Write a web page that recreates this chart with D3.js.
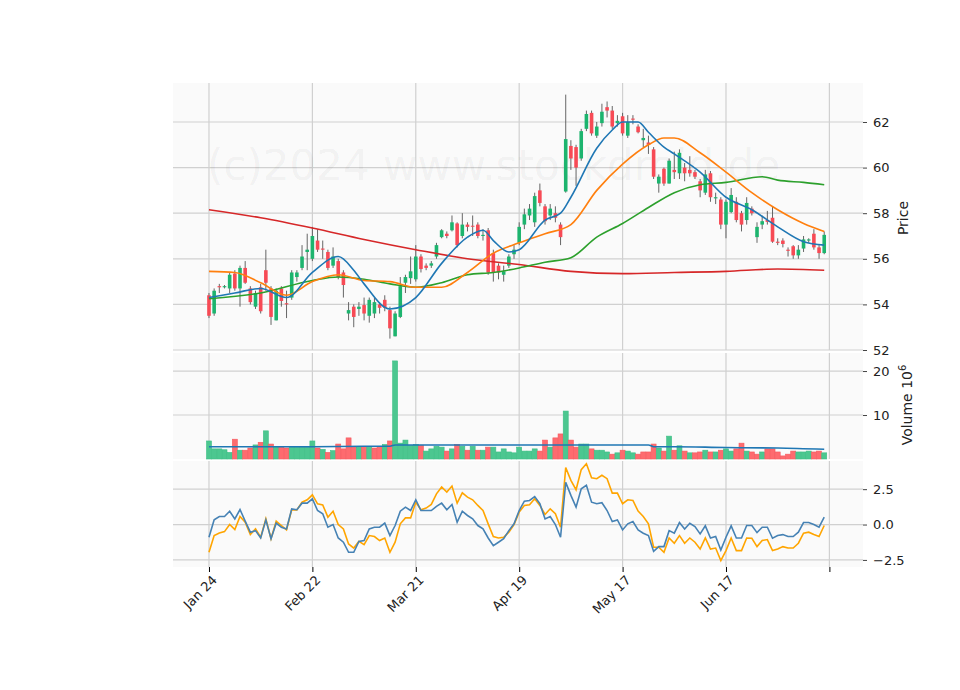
<!DOCTYPE html>
<html lang="en">
<head>
<meta charset="UTF-8">
<title>Chart</title>
<style>
body{margin:0;background:#fff;}
text{font-family:"DejaVu Sans",sans-serif;}
</style>
</head>
<body>
<script src="https://d3js.org/d3.v7.min.js"></script>
<script>
// candles, index 0..119
var opens = [54.4,53.6,54.8,54.75,54.7,55.35,54.7,55.6,54.7,53.9,54.75,55.5,54.7,53.3,54.7,54.05,54.3,55.2,55.6,56.3,
 56.0,56.8,56.45,56.3,55.7,55.9,55.4,53.6,53.9,53.8,53.97,53.5,53.6,54.0,54.2,53.75,52.6,53.45,54.95,55.15,
 55.1,56.1,55.7,55.7,56.1,56.95,57.1,57.25,57.55,57.0,57.5,57.45,57.5,57.0,57.25,56.25,55.7,55.3,55.7,56.2,
 56.7,57.5,57.9,57.6,59.0,58.3,57.9,58.0,57.5,58.95,60.95,60.9,60.4,61.7,62.4,61.4,61.95,62.65,62.5,61.95,
 62.25,61.4,62.15,61.8,61.2,61.1,60.8,59.3,59.95,59.3,59.9,59.75,60.0,59.9,59.8,59.4,58.9,59.75,58.65,58.6,
 57.5,58.05,58.5,58.0,57.7,58.2,56.95,57.5,57.7,57.8,56.75,56.8,56.4,56.55,56.15,56.45,56.8,57.1,56.5,56.25];
var highs = [54.5,54.7,54.9,54.85,55.4,55.5,55.7,55.9,54.8,54.6,54.9,56.4,54.8,54.7,54.8,54.6,55.5,55.5,56.6,57.1,
 57.4,57.3,56.8,56.4,56.5,56.0,55.5,54.1,54.0,54.1,54.3,54.3,54.3,54.1,54.4,53.9,53.7,55.2,55.3,56.1,
 56.6,56.2,55.8,55.9,56.7,57.3,57.2,57.9,57.6,58.0,57.6,57.9,57.6,57.3,57.35,56.4,55.8,55.7,56.2,56.6,
 57.6,58.2,58.4,58.9,59.3,58.4,58.4,58.3,57.6,63.2,61.2,61.0,61.7,62.5,62.5,62.0,62.8,62.9,62.7,62.3,
 62.4,62.3,62.3,61.9,61.7,61.4,60.9,59.7,60.0,60.4,60.7,60.8,60.2,60.5,59.9,59.5,59.9,59.85,58.9,58.7,
 58.6,59.1,58.7,58.1,58.7,58.3,57.6,57.9,58.1,58.3,56.9,56.9,56.5,56.6,56.6,57.0,56.9,57.3,56.6,57.2];
var lows = [53.4,53.5,54.5,54.7,54.5,54.6,53.9,54.9,54.0,53.8,53.6,54.6,53.1,53.3,53.9,53.4,54.2,55.0,55.5,55.5,
 55.9,56.3,56.0,55.5,55.6,55.1,54.3,53.3,53.0,53.5,53.3,53.2,53.4,53.6,53.7,52.5,52.6,53.4,54.5,54.9,
 55.0,55.4,55.5,55.6,56.0,56.9,56.9,57.2,56.5,56.9,57.2,57.0,56.9,56.8,55.3,55.0,55.1,55.0,55.6,56.0,
 56.6,57.3,57.7,57.4,58.3,57.5,57.7,57.6,56.6,58.9,59.9,59.2,60.3,61.6,61.4,61.3,61.8,62.2,61.7,61.8,
 61.4,61.3,61.9,61.5,60.9,60.6,59.5,58.9,59.2,59.3,59.5,59.5,59.4,59.6,59.5,58.7,58.8,58.5,58.4,57.3,
 56.9,58.0,57.6,57.2,57.5,57.9,56.7,57.3,57.5,56.7,56.6,56.5,56.1,56.0,56.0,56.3,56.7,56.4,56.0,56.2];
var closes = [53.5,54.6,54.75,54.8,55.3,54.7,55.6,54.95,54.1,54.5,53.7,54.95,53.45,54.6,54.15,54.0,55.4,55.4,56.1,56.4,
 57.0,56.4,56.4,55.6,56.1,55.2,54.85,53.75,53.45,53.9,53.6,54.2,54.1,53.85,53.85,52.95,53.6,54.8,55.2,55.45,
 56.1,55.55,55.6,55.8,56.6,57.25,57.0,57.6,56.6,57.5,57.4,57.43,57.0,57.05,55.4,55.4,55.4,55.45,56.1,56.4,
 57.4,57.95,58.2,58.75,58.45,57.65,58.2,57.8,56.95,61.25,60.4,60.0,61.6,62.35,61.5,61.8,62.45,62.5,61.8,62.05,
 61.5,62.0,62.1,61.55,61.3,61.0,59.6,59.6,59.3,60.3,59.8,60.65,59.75,59.75,59.6,59.0,59.7,58.7,58.7,57.5,
 58.5,58.8,57.7,57.5,58.45,58.0,57.4,57.65,57.62,56.75,56.7,56.65,56.35,56.15,56.4,56.85,56.85,56.5,56.25,57.05];
var volumes = [4.1,2.3,2.3,2.1,1.5,4.5,2.0,2.0,2.5,3.2,3.8,6.4,3.4,2.7,2.7,2.5,2.7,2.7,2.7,2.7,
 4.1,2.5,2.2,1.5,1.9,3.4,2.3,4.8,2.7,2.7,2.7,2.7,2.5,2.7,3.3,4.1,22.3,3.6,4.3,3.1,
 3.3,3.1,1.8,2.3,2.9,2.7,1.8,2.3,3.3,2.9,2.0,2.9,2.0,2.0,2.7,2.7,1.6,2.3,1.6,1.4,
 2.7,1.8,1.8,2.3,1.8,4.3,2.7,4.8,5.7,10.9,4.3,2.7,3.4,3.4,2.3,2.0,2.0,1.6,1.1,1.4,
 2.0,1.8,1.4,1.1,1.6,1.6,3.4,2.5,1.8,5.2,2.0,3.0,1.8,1.4,1.4,1.6,2.0,1.6,1.6,2.0,
 2.3,1.8,2.3,3.6,1.8,1.6,1.1,1.6,2.3,2.3,1.6,0.7,1.1,1.8,1.6,1.6,1.8,1.6,1.8,1.4];
var maFastIdx = [0,5,10,15,20,25,28,30,35,40,45,50,53,55,58,60,65,68,70,75,78,80,83,85,88,90,95,100,105,110,115,119];
var maFast = [54.3,54.5,54.7,54.3,55.4,56.1,55.5,54.9,53.8,54.3,55.8,56.95,57.25,56.8,56.3,56.4,57.7,58.0,58.7,60.85,61.65,62.0,62.0,61.55,60.9,60.6,59.8,58.7,58.15,57.4,56.75,56.6];
var maMidIdx = [0,5,10,15,20,25,30,35,40,45,50,55,60,65,70,75,80,85,88,90,95,100,105,110,115,119];
var maMid = [55.45,55.4,54.95,54.4,55.0,55.3,55.05,55.0,54.75,54.75,55.4,56.25,56.7,57.1,57.5,59.0,60.15,61.0,61.3,61.3,60.65,59.8,58.9,58.15,57.55,57.2];
var maSlowIdx = [0,10,20,25,30,35,40,45,50,55,60,65,70,75,80,85,90,95,100,107,110,115,119];
var maSlow = [54.25,54.5,55.05,55.2,55.1,54.9,54.75,54.95,55.3,55.4,55.6,55.85,56.05,56.95,57.55,58.25,58.9,59.25,59.35,59.6,59.45,59.35,59.25];
var maLongIdx = [0,10,20,30,40,50,60,70,80,90,100,110,119];
var maLong = [58.15,57.8,57.35,56.85,56.4,56.0,55.75,55.45,55.35,55.4,55.45,55.55,55.5];
var volMaIdx = [0,10,20,30,35,36,40,50,60,70,80,85,86,90,100,110,119];
var volMa = [2.8,2.8,2.8,2.9,2.9,3.2,3.2,3.2,3.2,3.2,3.2,3.2,2.8,2.8,2.6,2.5,2.2];
var oscBlue = [-0.9,0.33,0.57,0.57,0.94,0.4,1.06,0.24,-0.54,-0.43,-0.95,0.33,-1.0,0.1,-0.19,-0.31,1.1,1.05,1.51,1.51,
 1.82,0.99,0.76,-0.19,0,-0.95,-1.25,-1.96,-1.96,-1.2,-1.13,-0.31,-0.19,-0.19,0.1,-0.78,-0.07,0.94,1.23,0.99,
 1.75,0.99,0.99,0.99,1.28,1.51,1.04,1.42,0.17,0.94,0.64,0.4,-0.07,-0.31,-0.95,-1.49,-1.25,-1.0,-0.43,0.05,
 0.99,1.65,1.7,1.98,1.47,0.4,0.57,0,-0.9,2.98,2.06,1.23,2.53,2.77,1.58,1.47,1.54,0.99,0.21,0.33,
 -0.38,0.05,0.21,-0.38,-0.61,-0.78,-1.9,-1.56,-1.56,-0.43,-0.61,0.14,-0.31,0.09,-0.14,-0.66,-0.09,-0.95,-0.85,-1.8,
 -0.9,-0.09,-0.95,-0.95,-0.07,-0.07,-0.57,-0.19,-0.19,-0.97,-0.78,-0.71,-0.85,-0.85,-0.54,0.14,0.14,0,-0.19,0.52];
var oscOrange = [-1.96,-0.78,-0.6,-0.5,0,-0.36,0.57,0.17,-0.71,-0.31,-0.9,0.4,-1.0,0.24,-0.07,-0.38,1.04,1.04,1.58,1.75,
 2.1,1.46,1.39,0.52,0.94,0,-0.31,-1.37,-1.66,-1.18,-1.42,-0.78,-0.85,-1.13,-0.95,-1.96,-1.25,0.05,0.47,0.47,
 1.58,1.04,1.16,1.42,2.17,2.65,2.29,2.72,1.51,2.24,1.94,1.75,1.35,0.99,0.05,-0.85,-0.95,-0.9,-0.54,0,
 0.88,1.35,1.4,1.82,1.35,0.71,1.11,0.76,-0.19,4.02,3.12,2.46,3.88,4.3,3.31,3.24,3.48,3.24,2.22,2.22,
 1.47,1.75,1.7,0.95,0.57,0.05,-1.6,-1.6,-1.96,-0.95,-1.32,-0.78,-1.32,-0.95,-1.25,-1.73,-0.95,-1.73,-1.66,-2.55,
 -1.84,-0.95,-1.84,-1.84,-0.95,-0.97,-1.56,-1.13,-1.06,-1.84,-1.73,-1.56,-1.66,-1.66,-1.32,-0.61,-0.54,-0.71,-0.85,-0.07];
var tickIdx = [0,20,40,60,80,100,120];
var tickLabels = ["Jan 24","Feb 22","Mar 21","Apr 19","May 17","Jun 17",""];
var priceTicks = [52,54,56,58,60,62];
var volTicks = [10,20];
var oscTicks = [-2.5,0,2.5];

var upC = "#1db46e", downC = "#f74a55";
var upV = "#4cc790", downV = "#fe6b6f";
var left = 173, right = 863;

var svg = d3.select("body").append("svg").attr("width",960).attr("height",690);
var x = d3.scaleLinear().domain([-6.96,126.5]).range([left,right]);
var yP = d3.scaleLinear().domain([52,63.71]).range([350,83]);
var yV = d3.scaleLinear().domain([0,24.1]).range([459,353]);
var yO = d3.scaleLinear().domain([-3.0,4.49]).range([567,461]);
var idx = d3.range(closes.length);

//面板
function panel(y, ticks, fmt){
	var r = y.range();
	svg.append("rect").attr("x",left).attr("y",r[1]).attr("width",right-left).attr("height",r[0]-r[1]).attr("fill","#fafafa");
	svg.append("g").selectAll("line").data(ticks).join("line")
		.attr("x1",left).attr("x2",right).attr("y1",d=>y(d)).attr("y2",d=>y(d))
		.attr("stroke","#d0d0d0").attr("stroke-width",1.2);
	svg.append("g").selectAll("line").data(tickIdx).join("line")
		.attr("x1",d=>x(d)).attr("x2",d=>x(d)).attr("y1",r[1]).attr("y2",r[0])
		.attr("stroke","#d0d0d0").attr("stroke-width",1.2);
	var ax = d3.axisRight(y).tickValues(ticks).tickFormat(fmt).tickSize(4).tickPadding(6);
	var g = svg.append("g").attr("transform","translate("+right+",0)").call(ax);
	g.select(".domain").remove();
	g.selectAll("text").attr("font-size",13).attr("fill","#222");
	g.selectAll("line").attr("stroke","#444");
}
panel(yP, priceTicks, d3.format("d"));
panel(yV, volTicks, d3.format("d"));
panel(yO, oscTicks, d=> (d<0?"\u2212":"")+Math.abs(d).toFixed(1));

svg.append("text").attr("x",207).attr("y",180).attr("font-size",42).attr("fill","#000").attr("fill-opacity",0.05)
	.text("(c)2024 www.stockdroid.de");

var ax = d3.axisBottom(x).tickValues(tickIdx).tickFormat((d,i)=>tickLabels[i]).tickSize(5);
var gx = svg.append("g").attr("transform","translate(0,567)").call(ax);
gx.select(".domain").remove();
gx.selectAll("text").attr("font-size",13).attr("fill","#222").attr("text-anchor","end")
	.attr("transform","rotate(-45)").attr("dx","-0.3em").attr("dy","0.6em");

// candles
var cw = 3.6;
svg.append("g").selectAll("line").data(idx).join("line")
	.attr("x1",i=>x(i)).attr("x2",i=>x(i)).attr("y1",i=>yP(highs[i])).attr("y2",i=>yP(lows[i]))
	.attr("stroke","#555").attr("stroke-width",0.9);
svg.append("g").selectAll("rect").data(idx).join("rect")
	.attr("x",i=>x(i)-cw/2).attr("width",cw)
	.attr("y",i=>yP(Math.max(opens[i],closes[i])))
	.attr("height",i=>Math.max(1,Math.abs(yP(opens[i])-yP(closes[i]))))
	.attr("fill",i=>closes[i]>=opens[i]?upC:downC);

function maLine(ix, vals, y, color, w){
	var pts = ix.map((d,k)=>[x(d), y(vals[k])]);
	svg.append("path").attr("d", d3.line().curve(d3.curveMonotoneX)(pts))
		.attr("fill","none").attr("stroke",color).attr("stroke-width",w);
}
maLine(maLongIdx, maLong, yP, "#d62728", 1.6);
maLine(maSlowIdx, maSlow, yP, "#2ca02c", 1.6);
maLine(maMidIdx, maMid, yP, "#ff7f0e", 1.6);
maLine(maFastIdx, maFast, yP, "#1f77b4", 1.6);

// volume
var vw = 5.0;
svg.append("g").selectAll("rect").data(idx).join("rect")
	.attr("x",i=>x(i)-vw/2).attr("width",vw)
	.attr("y",i=>yV(volumes[i])).attr("height",i=>yV(0)-yV(volumes[i]))
	.attr("fill",i=>(i==0||closes[i]>=closes[i-1])?upV:downV)
	.attr("stroke",i=>(i==0||closes[i]>=closes[i-1])?"#3cbf85":"#f55a5f").attr("stroke-width",0.6);
maLine(volMaIdx, volMa, yV, "#1f77b4", 1.6);

// oscillator
svg.append("path").attr("d", d3.line().x(i=>x(i)).y(i=>yO(oscOrange[i]))(idx))
	.attr("fill","none").attr("stroke","#ffa500").attr("stroke-width",1.6);
svg.append("path").attr("d", d3.line().x(i=>x(i)).y(i=>yO(oscBlue[i]))(idx))
	.attr("fill","none").attr("stroke","#4682b4").attr("stroke-width",1.6);

svg.append("text").attr("transform","translate(908,218) rotate(-90)").attr("text-anchor","middle")
	.attr("font-size",14).attr("fill","#222").text("Price");
var vl = svg.append("text").attr("transform","translate(912,405) rotate(-90)").attr("text-anchor","middle")
	.attr("font-size",14).attr("fill","#222");
vl.append("tspan").text("Volume  10");
vl.append("tspan").attr("dy",-6).attr("font-size",10).text("6");
</script>
</body>
</html>
